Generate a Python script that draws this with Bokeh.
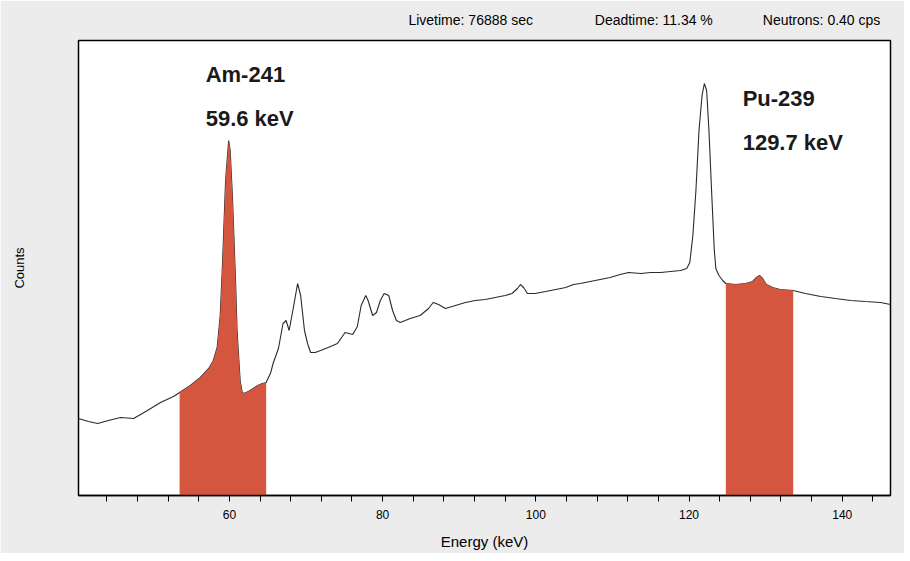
from bokeh.plotting import figure
from bokeh.models import Range1d, FixedTicker, Label, ColumnDataSource, LinearAxis
from bokeh.embed import file_html
from bokeh.resources import INLINE

# Spectrum (energy in keV, counts in arbitrary units)
energy = [40.3, 41.6, 42.8, 44.2, 45.8, 47.5, 49.3, 51.0, 52.7, 53.5, 54.9, 56.2, 57.3, 57.9,
          58.4, 58.8, 59.1, 59.5, 59.9, 60.1, 60.4, 60.8, 61.0, 61.4, 61.7, 62.2, 62.7, 63.7,
          64.3, 64.8, 65.4, 65.7, 66.4, 67.0, 67.4, 67.8, 68.4, 68.9, 69.3, 69.8, 70.2, 70.6,
          71.2, 71.9, 72.9, 74.1, 75.1, 76.1, 76.7, 77.2, 77.8, 78.1, 78.7, 79.2, 79.7, 80.2,
          80.8, 81.3, 81.8, 82.3, 83.6, 84.9, 86.0, 86.6, 87.3, 88.2, 89.5, 90.8, 92.1, 93.4,
          94.7, 96.0, 96.9, 97.6, 98.0, 98.4, 98.9, 99.9, 101.3, 102.6, 103.9, 104.9, 105.8,
          107.1, 108.4, 109.7, 111.0, 112.1, 113.7, 115.0, 116.3, 117.6, 118.9, 119.7, 120.1,
          120.5, 120.9, 121.3, 121.7, 122.0, 122.3, 122.6, 123.0, 123.3, 123.5, 123.9, 124.4,
          124.8, 126.1, 127.4, 128.3, 128.8, 129.2, 129.6, 130.1, 130.9, 131.9, 133.6, 135.2,
          137.2, 139.1, 141.1, 143.0, 145.0, 146.3]
counts = [77, 74, 72, 75, 78, 77, 85, 93, 99, 103, 110, 118, 127, 135,
          148, 180, 232, 315, 355, 345, 298, 215, 165, 115, 102, 103, 105, 110,
          112, 113, 123, 132, 147, 172, 175, 165, 190, 212, 200, 165, 152, 143,
          143, 145, 148, 152, 163, 161, 169, 190, 200, 195, 180, 183, 195, 202,
          200, 185, 175, 173, 177, 180, 187, 193, 191, 187, 190, 193, 195, 196,
          198, 200, 202, 207, 211, 208, 202, 202, 204, 206, 208, 211, 212,
          214, 216, 218, 221, 223, 222, 223, 223, 224, 225, 227, 233,
          260, 305, 365, 400, 412, 405, 365, 295, 245, 227, 220, 215,
          212, 211, 212, 214, 218, 220, 217, 211, 208, 206, 205, 202,
          199, 197, 195, 194, 193, 191]

# Regions of interest (keV)
roi_names = ["Am-241", "Pu-239"]
roi_lo = [53.5, 124.8]
roi_hi = [64.8, 133.6]
peak_labels = ["59.6 keV", "129.7 keV"]

header = ["Livetime: 76888 sec", "Deadtime: 11.34 %", "Neutrons: 0.40 cps"]
header_pos = [91.5, 115.4, 137.3]

major_ticks = [60, 80, 100, 120, 140]
minor_ticks = [44, 48, 52, 56, 64, 68, 72, 76, 84, 88, 92, 96, 104, 108, 112, 116,
               124, 128, 132, 136, 144]

FONT = "Liberation Sans"
RED = "#d4563f"

p = figure(width=904, height=553, output_backend="svg", toolbar_location=None,
           x_range=Range1d(40.3, 146.3), y_range=Range1d(0, 455),
           min_border_left=78, min_border_right=14, min_border_top=40, min_border_bottom=58)
p.border_fill_color = "#ececec"
p.background_fill_color = "white"
p.outline_line_color = "black"
p.outline_line_width = 1.5
p.grid.visible = False

ya = p.yaxis[0]
ya.ticker = FixedTicker(ticks=[], minor_ticks=[])
ya.axis_label = "Counts"
ya.axis_label_text_font = FONT
ya.axis_label_text_font_size = "13px"
ya.axis_label_text_font_style = "normal"
ya.axis_label_text_color = "black"
ya.major_tick_in = 0
ya.major_tick_out = 0
ya.minor_tick_in = 0
ya.minor_tick_out = 0
ya.axis_line_color = None
ya.axis_label_standoff = 52

ax = p.xaxis[0]
ax.ticker = FixedTicker(ticks=major_ticks, minor_ticks=minor_ticks)
ax.major_tick_in = 0
ax.major_tick_out = 6
ax.minor_tick_in = 0
ax.minor_tick_out = 6
ax.major_label_text_font = FONT
ax.major_label_text_font_size = "12px"
ax.major_label_text_color = "black"
ax.major_label_standoff = 8
ax.axis_label = "Energy (keV)"
ax.axis_label_text_font = FONT
ax.axis_label_text_font_size = "15px"
ax.axis_label_text_font_style = "normal"
ax.axis_label_text_color = "black"
ax.axis_label_standoff = 11
ax.axis_line_color = "black"
ax.axis_line_width = 1.5

# Header texts as labels of an invisible top axis
top = LinearAxis(ticker=FixedTicker(ticks=header_pos, minor_ticks=[]),
                 major_label_overrides={pos: txt for pos, txt in zip(header_pos, header)},
                 major_tick_in=0, major_tick_out=0, axis_line_color=None,
                 major_label_text_font=FONT, major_label_text_font_size="14px",
                 major_label_text_color="black", major_label_standoff=13)
p.add_layout(top, "above")

src = ColumnDataSource(dict(e=energy, c=counts))
p.line("e", "c", source=src, line_color="#2a2a2a", line_width=1.1)

for lo, hi in zip(roi_lo, roi_hi):
    xs = [e for e in energy if lo <= e <= hi]
    ys = [c for e, c in zip(energy, counts) if lo <= e <= hi]
    p.varea(x=xs, y1=[0] * len(xs), y2=ys, fill_color=RED, fill_alpha=1.0)

# Peak annotations
ann_x = [56.9, 127.0]
ann_y1 = [421, 397]
ann_y2 = [377, 353]
for name, lab, x, y1, y2 in zip(roi_names, peak_labels, ann_x, ann_y1, ann_y2):
    for txt, yy in ((name, y1), (lab, y2)):
        p.add_layout(Label(x=x, y=yy, text=txt, text_font=FONT, text_font_size="22px",
                           text_font_style="bold", text_color="#1a1a1a",
                           text_baseline="middle"))

open("out.html", "w").write(file_html(p, INLINE))
